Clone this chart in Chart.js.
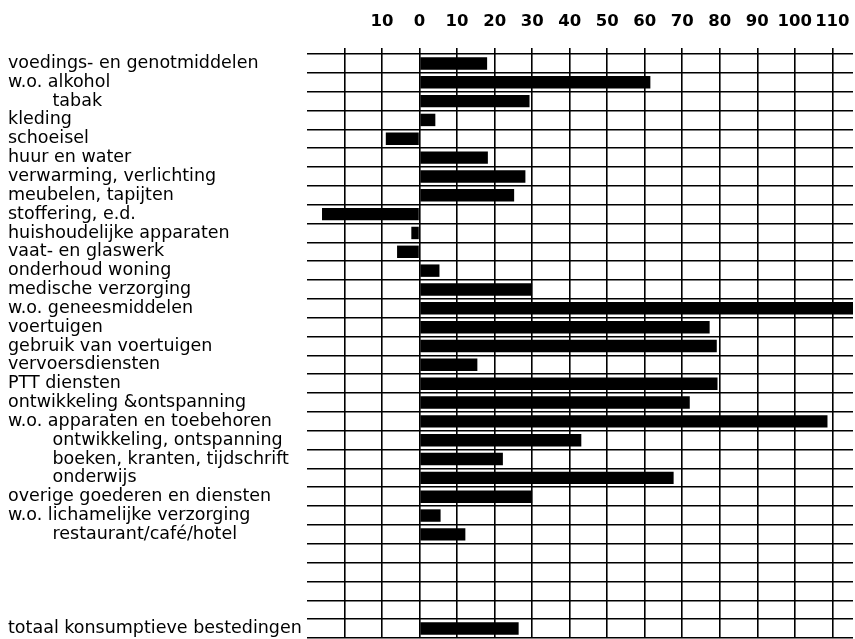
<!DOCTYPE html>
<html>
<head>
<meta charset="utf-8">
<script src="https://cdn.jsdelivr.net/npm/chart.js@4/dist/chart.umd.min.js"></script>
<style>
    html, body { margin: 0; padding: 0; background: #fff; }
    #wrap { width: 855px; height: 639px; position: relative; }
</style>
</head>
<body>
<div id="wrap"><canvas id="chart"></canvas></div>
<script>
// Categories (empty strings are blank rows in the original)
const categories = [
    'voedings- en genotmiddelen',
    'w.o. alkohol',
    'tabak',
    'kleding',
    'schoeisel',
    'huur en water',
    'verwarming, verlichting',
    'meubelen, tapijten',
    'stoffering, e.d.',
    'huishoudelijke apparaten',
    'vaat- en glaswerk',
    'onderhoud woning',
    'medische verzorging',
    'w.o. geneesmiddelen',
    'voertuigen',
    'gebruik van voertuigen',
    'vervoersdiensten',
    'PTT diensten',
    'ontwikkeling &ontspanning',
    'w.o. apparaten en toebehoren',
    'ontwikkeling, ontspanning',
    'boeken, kranten, tijdschrift',
    'onderwijs',
    'overige goederen en diensten',
    'w.o. lichamelijke verzorging',
    'restaurant/café/hotel',
    '', '', '', '',
    'totaal konsumptieve bestedingen'
];

// Sub-items that are indented in the label column
const indented = ['tabak', 'ontwikkeling, ontspanning', 'boeken, kranten, tijdschrift',
    'onderwijs', 'restaurant/café/hotel'];

const values = [
    18, 61.5, 29.3, 4.2, -9, 18.2, 28.2, 25.2, -26, -2.2,
    -6, 5.3, 30, 116, 77.3, 79.2, 15.4, 79.4, 72, 108.7,
    43.1, 22.2, 67.7, 30, 5.6, 12.2,
    null, null, null, null,
    26.4
];

// Axis ticks: every 10, labels shown without sign
const xMin = -30;
const xMax = 115.5;
const xTicks = [-30, -20, -10, 0, 10, 20, 30, 40, 50, 60, 70, 80, 90, 100, 110];
const hiddenTicks = [-30, -20];

const ctx = document.getElementById('chart').getContext('2d');

new Chart(ctx, {
    type: 'bar',
    data: {
        labels: categories,
        datasets: [{
            data: values,
            backgroundColor: '#000',
            borderWidth: 0,
            barPercentage: 0.66,
            categoryPercentage: 1
        }]
    },
    options: {
        indexAxis: 'y',
        responsive: true,
        maintainAspectRatio: false,
        animation: false,
        layout: { padding: { left: 8, right: 2, top: 0, bottom: 1 } },
        plugins: {
            legend: { display: false },
            tooltip: { enabled: false }
        },
        scales: {
            x: {
                position: 'top',
                min: xMin,
                max: xMax,
                afterBuildTicks: (scale) => {
                    scale.ticks = xTicks.map(v => ({ value: v }));
                },
                afterFit: (scale) => {
                    scale.height = 54;
                    scale.paddingLeft = 0;
                    scale.paddingRight = 0;
                },
                border: { display: false },
                grid: {
                    color: (c) => (c.tick && c.tick.value === xMin) ? 'rgba(0,0,0,0)' : '#000',
                    lineWidth: 1.6,
                    drawTicks: true,
                    tickLength: 6
                },
                ticks: {
                    padding: 16,
                    color: '#000',
                    maxRotation: 0,
                    autoSkip: false,
                    font: { family: 'DejaVu Sans', size: 16.5, weight: 'bold' },
                    callback: (v) => hiddenTicks.includes(v) ? '' : String(Math.abs(v))
                }
            },
            y: {
                afterFit: (scale) => {
                    scale.width = 299;
                    scale.paddingTop = 0;
                    scale.paddingBottom = 0;
                },
                border: { display: false },
                grid: {
                    color: '#000',
                    lineWidth: 1.6,
                    drawTicks: false,
                    offset: true
                },
                ticks: {
                    autoSkip: false,
                    crossAlign: 'far',
                    padding: 0,
                    color: '#000',
                    font: { family: 'DejaVu Sans', size: 17.5 },
                    callback: function (v) {
                        const label = this.getLabelForValue(v);
                        return indented.includes(label) ? '\u00a0'.repeat(8) + label : label;
                    }
                }
            }
        }
    }
});
</script>
</body>
</html>
